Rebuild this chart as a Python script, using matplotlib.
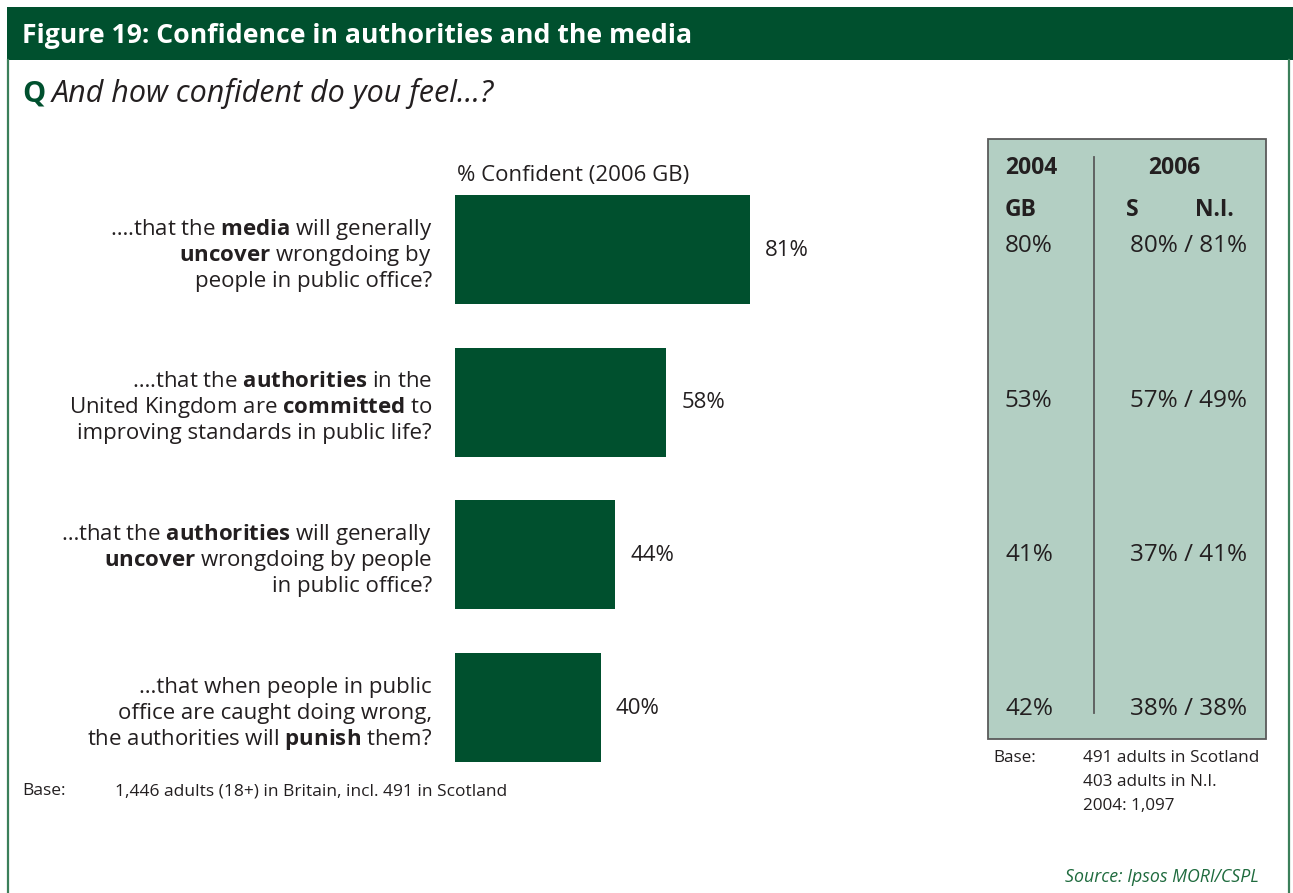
import matplotlib
matplotlib.use("Agg")
import matplotlib.pyplot as plt
from matplotlib.patches import Rectangle
from matplotlib.lines import Line2D

# ========= Config =========
W, H = 1293, 893
GREEN = "#00502E"
BORDER = "#3B7F5A"
TEXT = "#231F20"
PANEL = "#B3CFC3"
PANEL_EDGE = "#5A5A5A"

plt.rcParams["font.family"] = ["Open Sans", "DejaVu Sans"]
plt.rcParams["mathtext.fontset"] = "custom"
plt.rcParams["mathtext.rm"] = "Open Sans"
plt.rcParams["mathtext.bf"] = "Open Sans:bold"
plt.rcParams["mathtext.it"] = "Open Sans:italic"

# ========= Data =========
statements = [
    ["\u2026.that the $\\mathbf{media}$ will generally",
     "$\\mathbf{uncover}$ wrongdoing by",
     "people in public office?"],
    ["\u2026.that the $\\mathbf{authorities}$ in the",
     "United Kingdom are $\\mathbf{committed}$ to",
     "improving standards in public life?"],
    ["\u2026that the $\\mathbf{authorities}$ will generally",
     "$\\mathbf{uncover}$ wrongdoing by people",
     "in public office?"],
    ["\u2026that when people in public",
     "office are caught doing wrong,",
     "the authorities will $\\mathbf{punish}$ them?"],
]
confident_2006_gb = [81, 58, 44, 40]
gb_2004 = [80, 53, 41, 42]
scotland_2006 = [80, 57, 37, 38]
ni_2006 = [81, 49, 41, 38]


def fx(px):
    return px / W


def fy(py):
    return 1 - py / H


def txt(x, y, s, **kw):
    kw.setdefault("va", "baseline")
    kw.setdefault("color", TEXT)
    return fig.text(fx(x), fy(y), s, **kw)


fig = plt.figure(figsize=(W / 100, H / 100), dpi=100)
fig.patch.set_facecolor("white")

# header band and frame
fig.add_artist(Rectangle((fx(7), fy(60)), fx(W) - fx(7), fy(7) - fy(60),
                         transform=fig.transFigure, color=GREEN, lw=0))
fig.add_artist(Line2D([fx(8), fx(8)], [fy(60), fy(H)], transform=fig.transFigure,
                      color=BORDER, lw=1.6))
fig.add_artist(Line2D([fx(1289), fx(1289)], [fy(60), fy(H)], transform=fig.transFigure,
                      color=BORDER, lw=1.6))

txt(22, 43, "Figure 19: Confidence in authorities and the media",
    color="white", fontsize=19.2, fontweight="bold")
txt(22, 102, "Q", color=GREEN, fontsize=21, fontweight="bold")
txt(52, 102, "And how confident do you feel\u2026?", fontsize=22, style="italic")

# ========= Bar chart =========
px_per_pct = 295 / 81
row_px = 152.7
ax_w = 500
ax = fig.add_axes([fx(455), fy(249.5 + 3.5 * row_px), ax_w / W, 4 * row_px / H])
ax.set_xlim(0, ax_w / px_per_pct)
ax.set_ylim(3.5, -0.5)
ax.axis("off")

ypos = list(range(len(confident_2006_gb)))
ax.barh(ypos, confident_2006_gb, height=0.714, color=GREEN)

for i, v in enumerate(confident_2006_gb):
    ax.annotate(f"{v}%", xy=(v, i), xytext=(15, -6), textcoords="offset pixels",
                ha="left", va="baseline", fontsize=16, color=TEXT)
    for j, line in enumerate(statements[i]):
        ax.annotate(line, xy=(0, i), xytext=(-23, 15 - 26 * j), textcoords="offset pixels",
                    ha="right", va="baseline", fontsize=16, color=TEXT)

txt(457, 181, "% Confident (2006 GB)", fontsize=16)

# ========= Comparison panel =========
fig.add_artist(Rectangle((fx(988), fy(739)), fx(1266) - fx(988), fy(139) - fy(739),
                         transform=fig.transFigure, facecolor=PANEL,
                         edgecolor=PANEL_EDGE, lw=1.3))
fig.add_artist(Line2D([fx(1094), fx(1094)], [fy(157), fy(713)], transform=fig.transFigure,
                      color=PANEL_EDGE, lw=1.3))

txt(1005, 174, "2004", fontsize=16.5, fontweight="bold")
txt(1174, 174, "2006", fontsize=16.5, fontweight="bold", ha="center")
txt(1005, 216, "GB", fontsize=16.5, fontweight="bold")
txt(1126, 216, "S", fontsize=16.5, fontweight="bold")
txt(1234, 216, "N.I.", fontsize=16.5, fontweight="bold", ha="right")

row_base = [252, 407, 561, 715]
for yb, a, s, n in zip(row_base, gb_2004, scotland_2006, ni_2006):
    txt(1005, yb, f"{a}%", fontsize=17.5)
    txt(1247, yb, f"{s}% / {n}%", fontsize=17.5, ha="right")

# ========= Notes =========
txt(22, 795, "Base:", fontsize=12.5)
txt(115, 795, "1,446 adults (18+) in Britain, incl. 491 in Scotland", fontsize=12.5)

txt(993, 762, "Base:", fontsize=12.3)
txt(1083, 762, "491 adults in Scotland", fontsize=12.3)
txt(1083, 786, "403 adults in N.I.", fontsize=12.3)
txt(1083, 810, "2004: 1,097", fontsize=12.3)

txt(1259, 882, "Source: Ipsos MORI/CSPL", fontsize=12.8, style="italic",
    color="#1F6B3E", ha="right")

fig.savefig("out.png", dpi=100)
